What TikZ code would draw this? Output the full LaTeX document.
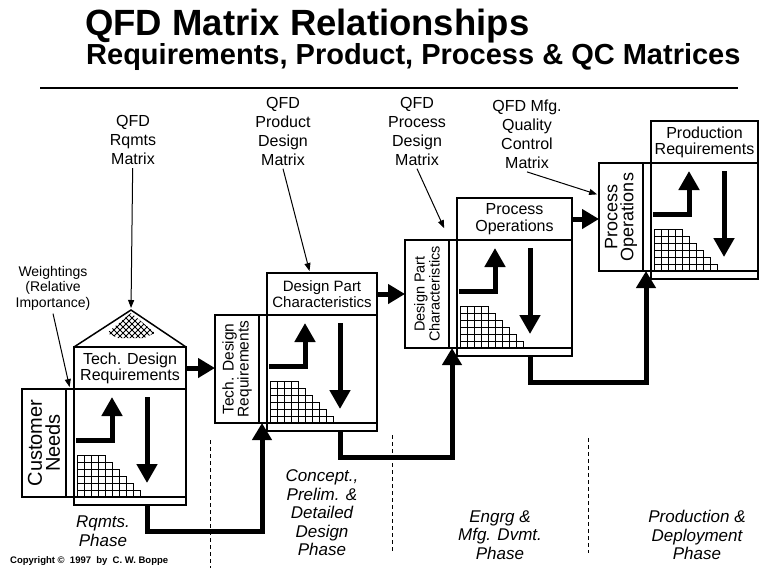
\documentclass[tikz,border=0pt]{standalone}
\usepackage{fontspec}
\setmainfont{Liberation Sans}
\usetikzlibrary{arrows.meta,positioning}
\newcommand{\fsz}[2]{\fontsize{#1}{#2}\selectfont}

%% one QFD matrix: name, x, y (top-left of body), width,
%% header font, header text, side font, side text
\newcommand{\qfdmatrix}[8]{%
  \begin{scope}[shift={(#2,#3)}]
    \node[body, minimum width=#4pt, anchor=north west] (#1-bd) at (0,0) {};
    \node[header, minimum width=#4pt, anchor=south west, font=#5] (#1-hd) at (0,0) {#6};
    \node[strip, minimum width=#4pt, anchor=north west] (#1-st) at (0,108) {};
    \node[side, anchor=north east] (#1-sd) at (0,0) {};
    \draw[box line] (-8,0) -- (-8,108);
    \node[rotate=90, align=center, font=#7] (#1-sdtxt) at (-30,54) {#8};
    \coordinate (#1-in) at (-5,108);
    \coordinate (#1-dn) at (73,116);
    \coordinate (#1-turn) at (73,142);
    %% staircase grid
    \foreach \i in {0,...,8} {
      \pgfmathtruncatemacro{\h}{min(6,9-\i)}
      \foreach \j in {1,...,\h}
        \draw[grid line] (3+7*\i,108-7*\j) rectangle ++(7,7);
    }
    %% up / down arrows
    \draw[inner arrow] (2,51) -- (38,51) -- (38,8);
    \draw[inner arrow] (73,8) -- (73,94);
  \end{scope}}

\begin{document}
\begin{tikzpicture}[
  x=1pt, y=-1pt,
  box line/.style   = {line width=1.5pt},
  body/.style       = {draw, box line, minimum height=108pt, inner sep=0pt, outer sep=0pt},
  header/.style     = {draw, box line, minimum height=42pt, align=center, inner sep=0pt, outer sep=0pt},
  strip/.style      = {draw, box line, minimum height=8pt, inner sep=0pt, outer sep=0pt},
  side/.style       = {draw, box line, minimum width=52pt, minimum height=108pt, inner sep=0pt, outer sep=0pt},
  flow/.style       = {line width=5pt, -{Triangle[length=17pt,width=19pt]}},
  inner arrow/.style= {line width=5pt, -{Triangle[length=19pt,width=20pt]}},
  pointer/.style    = {line width=1pt, -{Triangle[length=8pt,width=6pt]}, shorten >=2pt},
  toplabel/.style   = {align=center, font=\fsz{16}{19}},
  phase/.style      = {align=center, font=\fsz{17}{18.5}\itshape},
  phase line/.style = {line width=1pt, dash pattern=on 4pt off 3pt},
  grid line/.style  = {line width=0.8pt}
]
\fill[white] (0,0) rectangle (759,568);
\useasboundingbox (0,0) rectangle (759,568);

%% ─── Title ──────────────────────────────────────────────────────
\node[anchor=base west, inner sep=0pt, font=\fsz{36.5}{40}\bfseries] (title)
  at (85,35.5) {QFD Matrix Relationships};
\node[anchor=base west, inner sep=0pt, font=\fsz{29}{32}\bfseries] (subtitle)
  at (86,64.5) {Requirements, Product, Process \& QC Matrices};
\draw[box line] (40,88) -- (738,88);

%% ─── The four matrices ──────────────────────────────────────────
\qfdmatrix{m1}{74}{389}{112}{\fsz{16}{16}}{Tech. Design\\Requirements}{\fsz{20}{18}}{Customer\\Needs}
\qfdmatrix{m2}{267}{315}{110}{\fsz{15}{16}}{Design Part\\Characteristics}{\fsz{15.5}{15}}{Tech. Design\\Requirements}
\qfdmatrix{m3}{457}{240}{115}{\fsz{16}{17}}{Process\\Operations}{\fsz{14.5}{15}}{Design Part\\Characteristics}
\qfdmatrix{m4}{651}{163}{107}{\fsz{16}{16}}{Production\\Requirements}{\fsz{18}{16}}{Process\\Operations}

%% ─── Roof of the first matrix ───────────────────────────────────
\coordinate (peak) at (131,310);
\draw[box line, line join=miter] (m1-hd.north west) -- (peak) -- (m1-hd.north east);
\begin{scope}
  \clip (131,313) -- (155,333) -- (144,338) -- (118,338) -- (107,333) -- cycle;
  \foreach \k in {60,66,...,200} {
    \draw[grid line] (\k,300) -- ++(50,50);
    \draw[grid line] (\k,300) -- ++(-50,50);
  }
\end{scope}

%% ─── Labels above ───────────────────────────────────────────────
\node[toplabel] (rqlab) at (133,140) {QFD\\Rqmts\\Matrix};
\node[toplabel] (pdlab) at (283,131) {QFD\\Product\\Design\\Matrix};
\node[toplabel] (pclab) at (417,131) {QFD\\Process\\Design\\Matrix};
\node[toplabel] (mqlab) at (527,134) {QFD Mfg.\\Quality\\Control\\Matrix};
\node[align=center, font=\fsz{14}{15.5}] (wtlab) at (53,288)
  {Weightings\\(Relative\\Importance)};

%% ─── Pointers ───────────────────────────────────────────────────
\draw[pointer] (rqlab) -- (peak);
\draw[pointer] (pdlab.south) -- ([xshift=-12pt]m2-hd.north);
\draw[pointer] (pclab.south) -- ([xshift=-12pt,yshift=10pt]m3-sd.north east);
\draw[pointer] (mqlab.south) -- ([yshift=-32pt]m4-sd.north west);
\draw[pointer] (wtlab.south) -- ([xshift=-4pt]m1-sd.north east);

%% ─── Flow between matrices ──────────────────────────────────────
\draw[flow] (m1-hd.east) -- (m1-hd.east -| m2-sd.west);
\draw[flow] (m2-hd.east) -- (m2-hd.east -| m3-sd.west);
\draw[flow] (m3-hd.east) -- (m3-hd.east -| m4-sd.west);
\draw[flow] (m1-dn) -- (m1-turn) -| (m2-in);
\draw[flow] (m2-dn) -- (m2-turn) -| (m3-in);
\draw[flow] (m3-dn) -- (m3-turn) -| (m4-in);

%% ─── Phases ─────────────────────────────────────────────────────
\draw[phase line] (210,440) -- (210,568);
\draw[phase line] (392,435) -- (392,553);
\draw[phase line] (588,438) -- (588,553);
\node[phase] (ph1) at (103,531) {Rqmts.\\Phase};
\node[phase] (ph2) at (322,513) {Concept.,\\Prelim. \&\\Detailed\\Design\\Phase};
\node[phase] (ph3) at (500,535) {Engrg \&\\Mfg. Dvmt.\\Phase};
\node[phase] (ph4) at (697,535) {Production \&\\Deployment\\Phase};

\node[anchor=base west, inner sep=0pt, font=\fsz{9.5}{10}\bfseries] (copy)
  at (10,563) {Copyright ©\ \ 1997\ \ by\ \ C. W. Boppe};

\end{tikzpicture}
\end{document}
